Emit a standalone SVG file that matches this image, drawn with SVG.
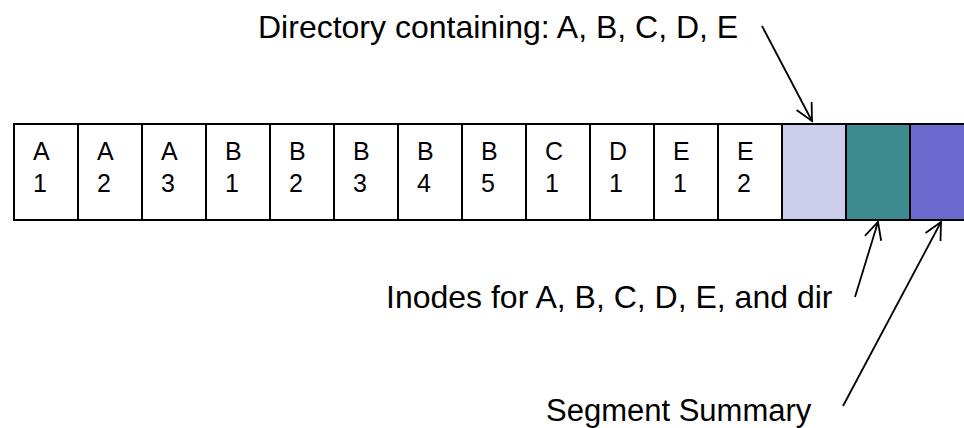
<svg xmlns="http://www.w3.org/2000/svg" width="964" height="428" viewBox="0 0 964 428">
  <style>
    .cell { fill: #ffffff; stroke: #000000; stroke-width: 2; }
    .lbl { font-family: "Liberation Sans", Arial, sans-serif; font-size: 25px; fill: #000000; }
    .cap { font-family: "Liberation Sans", Arial, sans-serif; font-size: 32px; fill: #000000; }
    .conn { fill: none; stroke: #000000; stroke-width: 1.8; marker-end: url(#open); }
  </style>
  <defs>
    <marker id="open" markerUnits="userSpaceOnUse" markerWidth="24" markerHeight="24" viewBox="-20 -12 24 24" refX="0" refY="0" orient="auto" overflow="visible">
      <path d="M-17,-8.5 L0,0 L-17,8.5" fill="none" stroke="#000000" stroke-width="1.8"/>
    </marker>
  </defs>
  <rect width="964" height="428" fill="#ffffff"/>

  <!-- log segment: data blocks -->
  <g id="blk-a1"><rect class="cell" x="14" y="124" width="64" height="96"/><text class="lbl" x="33" y="160">A</text><text class="lbl" x="33" y="192">1</text></g>
  <g id="blk-a2"><rect class="cell" x="78" y="124" width="64" height="96"/><text class="lbl" x="97" y="160">A</text><text class="lbl" x="97" y="192">2</text></g>
  <g id="blk-a3"><rect class="cell" x="142" y="124" width="64" height="96"/><text class="lbl" x="161" y="160">A</text><text class="lbl" x="161" y="192">3</text></g>
  <g id="blk-b1"><rect class="cell" x="206" y="124" width="64" height="96"/><text class="lbl" x="225" y="160">B</text><text class="lbl" x="225" y="192">1</text></g>
  <g id="blk-b2"><rect class="cell" x="270" y="124" width="64" height="96"/><text class="lbl" x="289" y="160">B</text><text class="lbl" x="289" y="192">2</text></g>
  <g id="blk-b3"><rect class="cell" x="334" y="124" width="64" height="96"/><text class="lbl" x="353" y="160">B</text><text class="lbl" x="353" y="192">3</text></g>
  <g id="blk-b4"><rect class="cell" x="398" y="124" width="64" height="96"/><text class="lbl" x="417" y="160">B</text><text class="lbl" x="417" y="192">4</text></g>
  <g id="blk-b5"><rect class="cell" x="462" y="124" width="64" height="96"/><text class="lbl" x="481" y="160">B</text><text class="lbl" x="481" y="192">5</text></g>
  <g id="blk-c1"><rect class="cell" x="526" y="124" width="64" height="96"/><text class="lbl" x="545" y="160">C</text><text class="lbl" x="545" y="192">1</text></g>
  <g id="blk-d1"><rect class="cell" x="590" y="124" width="64" height="96"/><text class="lbl" x="609" y="160">D</text><text class="lbl" x="609" y="192">1</text></g>
  <g id="blk-e1"><rect class="cell" x="654" y="124" width="64" height="96"/><text class="lbl" x="673" y="160">E</text><text class="lbl" x="673" y="192">1</text></g>
  <g id="blk-e2"><rect class="cell" x="718" y="124" width="64" height="96"/><text class="lbl" x="737" y="160">E</text><text class="lbl" x="737" y="192">2</text></g>

  <!-- metadata blocks -->
  <g id="blk-dir"><rect class="cell" x="782" y="124" width="64" height="96" style="fill:#cdcdec"/></g>
  <g id="blk-inodes"><rect class="cell" x="846" y="124" width="64" height="96" style="fill:#3d8b8f"/></g>
  <g id="blk-summary"><rect class="cell" x="910" y="124" width="64" height="96" style="fill:#6a6acd"/></g>

  <!-- captions -->
  <g id="cap-dir"><text class="cap" x="258" y="38">Directory containing: A, B, C, D, E</text></g>
  <g id="cap-inodes"><text class="cap" x="386" y="308">Inodes for A, B, C, D, E, and dir</text></g>
  <g id="cap-summary"><text class="cap" x="546" y="421" style="font-size:31px">Segment Summary</text></g>

  <!-- connectors -->
  <g id="connectors">
    <line class="conn" x1="762" y1="26" x2="812" y2="121"/>
    <line class="conn" x1="855" y1="297" x2="878" y2="222"/>
    <line class="conn" x1="843" y1="406" x2="941" y2="222"/>
  </g>
</svg>
